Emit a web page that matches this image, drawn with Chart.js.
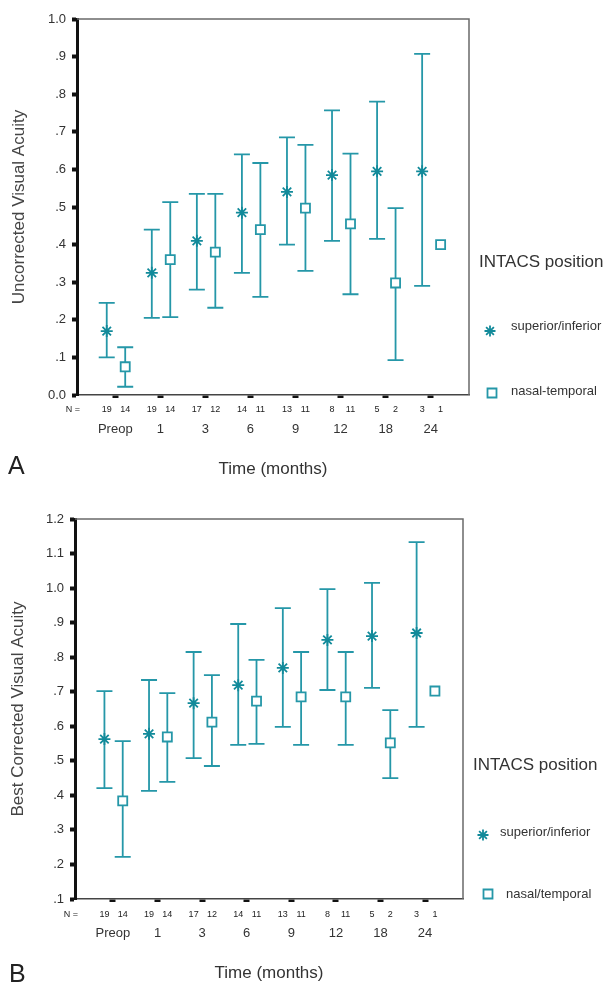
<!DOCTYPE html>
<html><head><meta charset="utf-8">
<script src="https://cdn.jsdelivr.net/npm/chart.js@4.4.0/dist/chart.umd.min.js"></script>
<style>
html,body{margin:0;padding:0;background:#fff;}
#wrap{position:relative;width:611px;height:988px;overflow:hidden;font-family:"Liberation Sans",Arial,sans-serif;color:#333;}
canvas{position:absolute;left:0;}
.t{position:absolute;white-space:nowrap;line-height:1;}
</style></head><body>
<div id="wrap">
<canvas id="cA" width="611" height="494" style="top:0"></canvas>
<canvas id="cB" width="611" height="494" style="top:494px"></canvas>
<div class="t" style="left:8px;top:453px;font-size:25px;color:#222;">A</div>
<div class="t" style="left:479px;top:253px;font-size:17px;">INTACS position</div>
<div class="t" style="left:511px;top:319px;font-size:13px;">superior/inferior</div>
<div class="t" style="left:511px;top:384px;font-size:13px;">nasal-temporal</div>
<div class="t" style="left:9px;top:961px;font-size:25px;color:#222;">B</div>
<div class="t" style="left:473px;top:756px;font-size:17px;">INTACS position</div>
<div class="t" style="left:500px;top:825px;font-size:13px;">superior/inferior</div>
<div class="t" style="left:506px;top:887px;font-size:13px;">nasal/temporal</div>
</div>
<script>
// ---- data ----
const categories = ['Preop','1','3','6','9','12','18','24'];
const nSuperior = [19,19,17,14,13,8,5,3];
const nNasal    = [14,14,12,11,11,11,2,1];

// A: Uncorrected visual acuity
const ucvaSupMean = [0.17, 0.325, 0.41, 0.485, 0.54, 0.585, 0.595, 0.595];
const ucvaSupLow  = [0.10, 0.205, 0.28, 0.325, 0.40, 0.41, 0.415, 0.29];
const ucvaSupHigh = [0.245, 0.44, 0.535, 0.64, 0.685, 0.757, 0.78, 0.907];
const ucvaNasMean = [0.075, 0.36, 0.38, 0.44, 0.497, 0.455, 0.298, 0.40];
const ucvaNasLow  = [0.022, 0.207, 0.232, 0.261, 0.33, 0.268, 0.093, null];
const ucvaNasHigh = [0.127, 0.513, 0.535, 0.617, 0.665, 0.642, 0.497, null];
const ucvaTicks   = [0,0.1,0.2,0.3,0.4,0.5,0.6,0.7,0.8,0.9,1.0];

// B: Best corrected visual acuity
const bcvaSupMean = [0.563, 0.578, 0.667, 0.719, 0.769, 0.85, 0.861, 0.87];
const bcvaSupLow  = [0.421, 0.413, 0.508, 0.546, 0.598, 0.705, 0.711, 0.598];
const bcvaSupHigh = [0.702, 0.734, 0.815, 0.896, 0.942, 0.997, 1.015, 1.133];
const bcvaNasMean = [0.384, 0.569, 0.612, 0.673, 0.685, 0.685, 0.552, 0.702];
const bcvaNasLow  = [0.222, 0.439, 0.485, 0.549, 0.546, 0.546, 0.45, null];
const bcvaNasHigh = [0.557, 0.696, 0.748, 0.792, 0.815, 0.815, 0.647, null];
const bcvaTicks   = [0.1,0.2,0.3,0.4,0.5,0.6,0.7,0.8,0.9,1.0,1.1,1.2];

// ---- style ----
const FONT = '"Liberation Sans", Arial, sans-serif';
const TEAL = '#2597a8', TEAL_D = '#128a9a';
const SUP_OFF = -0.19, NAS_OFF = 0.22;

function pts(means, off){ return means.map((m,i)=>({x:i+off, y:m})); }
function fmt(v){
  const r = Math.round(v*10)/10;
  if (r === 0) return '0.0';
  if (r >= 1) return r.toFixed(1);
  return '.' + Math.round(r*10);
}

function drawMarker(ctx, style, x, y, r){
  ctx.save();
  ctx.lineWidth = 1.8;
  if (style === 'star') {
    ctx.strokeStyle = TEAL_D;
    ctx.beginPath();
    for (let k=0;k<4;k++){
      const a = k*Math.PI/4;
      ctx.moveTo(x - r*Math.sin(a), y - r*Math.cos(a));
      ctx.lineTo(x + r*Math.sin(a), y + r*Math.cos(a));
    }
    ctx.stroke();
  } else {
    ctx.strokeStyle = TEAL; ctx.fillStyle = '#fff';
    ctx.beginPath(); ctx.rect(x-r, y-r, 2*r, 2*r); ctx.fill(); ctx.stroke();
  }
  ctx.restore();
}

const errorBars = {
  id:'errorBars',
  beforeDatasetsDraw(chart){
    const {ctx, scales:{x,y}} = chart;
    ctx.save();
    ctx.strokeStyle = TEAL; ctx.lineWidth = 1.8;
    chart.data.datasets.forEach(ds=>{
      ds.data.forEach((p,i)=>{
        const lo = ds.errLow[i], hi = ds.errHigh[i];
        if (lo == null || hi == null) return;
        const px = x.getPixelForValue(p.x), y1 = y.getPixelForValue(lo), y2 = y.getPixelForValue(hi);
        ctx.beginPath();
        ctx.moveTo(px,y1); ctx.lineTo(px,y2);
        ctx.moveTo(px-8,y1); ctx.lineTo(px+8,y1);
        ctx.moveTo(px-8,y2); ctx.lineTo(px+8,y2);
        ctx.stroke();
      });
    });
    ctx.restore();
  }
};

const frameAndCounts = {
  id:'frameAndCounts',
  beforeDatasetsDraw(chart){
    const {ctx, chartArea:a} = chart;
    ctx.save();
    ctx.strokeStyle = '#6a6a6a'; ctx.lineWidth = 1.5;
    ctx.beginPath();
    ctx.moveTo(a.left, a.top); ctx.lineTo(a.right, a.top); ctx.lineTo(a.right, a.bottom);
    ctx.stroke();
    ctx.restore();
  },
  afterDraw(chart){
    const {ctx, chartArea:a, scales:{x}} = chart;
    const o = chart.options.plugins.frameAndCounts;
    ctx.save();
    ctx.fillStyle = '#222';
    ctx.font = '9px ' + FONT;
    ctx.textAlign = 'center'; ctx.textBaseline = 'middle';
    const ty = a.bottom + o.countGap;
    ctx.fillText('N =', a.left - 4, ty);
    categories.forEach((c,i)=>{
      ctx.fillText(String(nSuperior[i]), x.getPixelForValue(i+SUP_OFF), ty);
      ctx.fillText(String(nNasal[i]), x.getPixelForValue(i+NAS_OFF), ty);
    });
    drawMarker(ctx, 'star', o.starPos[0], o.starPos[1], 5.5);
    drawMarker(ctx, 'rect', o.rectPos[0], o.rectPos[1], 4.5);
    ctx.restore();
  }
};

function makeChart(id, c){
  return new Chart(document.getElementById(id), {
    type:'scatter',
    data:{datasets:[
      {label:'superior/inferior', data:pts(c.supMean,SUP_OFF), errLow:c.supLow, errHigh:c.supHigh,
       pointStyle:'star', radius:6, borderColor:TEAL_D, backgroundColor:TEAL_D, borderWidth:1.8, clip:false},
      {label:c.nasLabel, data:pts(c.nasMean,NAS_OFF), errLow:c.nasLow, errHigh:c.nasHigh,
       pointStyle:'rect', radius:6.4, borderColor:TEAL, backgroundColor:'#fff', borderWidth:1.8, clip:false}
    ]},
    options:{
      responsive:false, animation:false, events:[],
      layout:{padding:{top:c.top, right:c.right, left:0, bottom:0}},
      plugins:{legend:{display:false}, tooltip:{enabled:false},
        frameAndCounts:{countGap:c.countGap, starPos:c.starPos, rectPos:c.rectPos}},
      scales:{
        x:{type:'linear', min:-0.85, max:7.85,
          afterBuildTicks:s=>{ s.ticks = categories.map((_,i)=>({value:i})); },
          afterFit:s=>{ s.height = c.xh; },
          ticks:{callback:v=>categories[v], autoSkip:false, maxRotation:0, padding:c.xpad,
            color:'#333', font:{size:13, family:FONT}},
          grid:{display:true, drawOnChartArea:false, drawTicks:true, tickLength:3, tickWidth:6, tickColor:'#111'},
          border:{display:true, color:'#444', width:1.5},
          title:{display:true, text:'Time (months)', color:'#333', font:{size:17, family:FONT},
            padding:{top:0, bottom:c.xtb}}
        },
        y:{type:'linear', min:c.ymin, max:c.ymax,
          afterBuildTicks:s=>{ s.ticks = c.yticks.map(v=>({value:v})); },
          afterFit:s=>{ s.width = c.yw; },
          ticks:{callback:v=>fmt(v), padding:6, color:'#333', font:{size:13, family:FONT}},
          grid:{display:true, drawOnChartArea:false, drawTicks:true, tickLength:5, tickWidth:4, tickColor:'#111'},
          border:{display:true, color:'#111', width:3},
          title:{display:true, text:c.ytitle, color:'#444', font:{size:17, family:FONT},
            padding:{top:c.ytp, bottom:0}}
        }
      }
    },
    plugins:[errorBars, frameAndCounts]
  });
}

makeChart('cA', {
  supMean:ucvaSupMean, supLow:ucvaSupLow, supHigh:ucvaSupHigh,
  nasMean:ucvaNasMean, nasLow:ucvaNasLow, nasHigh:ucvaNasHigh, nasLabel:'nasal-temporal',
  yticks:ucvaTicks, ymin:0, ymax:1.0, ytitle:'Uncorrected Visual Acuity',
  top:19, right:142, yw:77, xh:99, xpad:24, xtb:14, ytp:9, countGap:15,
  starPos:[490,331], rectPos:[492,393]
});
makeChart('cB', {
  supMean:bcvaSupMean, supLow:bcvaSupLow, supHigh:bcvaSupHigh,
  nasMean:bcvaNasMean, nasLow:bcvaNasLow, nasHigh:bcvaNasHigh, nasLabel:'nasal/temporal',
  yticks:bcvaTicks, ymin:0.1, ymax:1.2, ytitle:'Best Corrected Visual Acuity',
  top:25, right:148, yw:75, xh:89, xpad:24, xtb:4, ytp:8, countGap:16,
  starPos:[483,341], rectPos:[488,400]
});
</script>
</body></html>
